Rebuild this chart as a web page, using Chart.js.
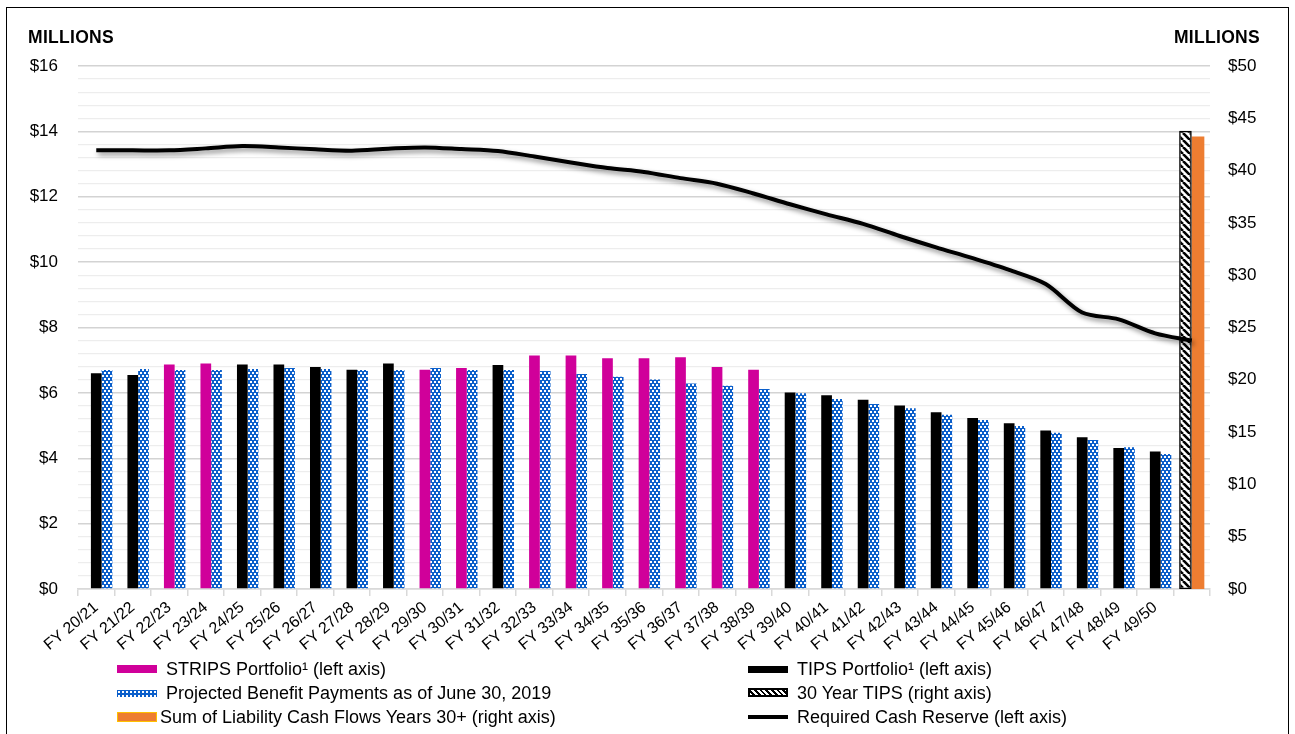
<!DOCTYPE html>
<html><head><meta charset="utf-8">
<script src="https://cdn.jsdelivr.net/npm/chart.js@4.4.0/dist/chart.umd.min.js"></script>
<style>
html,body{margin:0;padding:0;background:#fff;}
#wrap{position:relative;width:1295px;height:734px;overflow:hidden;font-family:"Liberation Sans",Arial,sans-serif;color:#000;}
canvas{position:absolute;left:0;top:0;}
.frame{position:absolute;left:6px;top:7px;width:1283px;height:760px;border:1.5px solid #000;box-sizing:border-box;pointer-events:none;}
.unit{position:absolute;top:27px;font-weight:bold;font-size:17.5px;letter-spacing:0.3px;}
.lg{position:absolute;font-size:18px;white-space:nowrap;line-height:20px;}
.sw{position:absolute;box-sizing:border-box;}
</style></head>
<body>
<div id="wrap">
<canvas id="c" width="1295" height="734"></canvas>
<div class="frame"></div>
<div class="unit" style="left:28px;">MILLIONS</div>
<div class="unit" style="right:35px;">MILLIONS</div>

<div class="sw" style="left:117px;top:665px;width:40px;height:8px;background:#D0009A;"></div>
<div class="lg" style="left:166px;top:659px;">STRIPS Portfolio¹ (left axis)</div>
<div class="sw" style="left:117px;top:690px;width:40px;height:7px;background-color:#0B5FCB;background-image:radial-gradient(#fff 35%, transparent 40%);background-size:4px 4px;"></div>
<div class="lg" style="left:166px;top:683px;">Projected Benefit Payments as of June 30, 2019</div>
<div class="sw" style="left:117px;top:712px;width:40px;height:10px;background:#ED7D31;border:1.5px solid #FFC000;"></div>
<div class="lg" style="left:160px;top:707px;">Sum of Liability Cash Flows Years 30+ (right axis)</div>

<div class="sw" style="left:748px;top:666px;width:40px;height:7px;background:#000;"></div>
<div class="lg" style="left:797px;top:659px;">TIPS Portfolio¹ (left axis)</div>
<div class="sw" style="left:748px;top:688px;width:40px;height:9px;border:2px solid #000;background:repeating-linear-gradient(45deg,#fff 0 2px,#000 2px 4px);"></div>
<div class="lg" style="left:797px;top:683px;">30 Year TIPS (right axis)</div>
<div class="sw" style="left:748px;top:715px;width:40px;height:4px;background:#000;"></div>
<div class="lg" style="left:797px;top:707px;">Required Cash Reserve (left axis)</div>
</div>
<script>
const categories = ['FY 20/21','FY 21/22','FY 22/23','FY 23/24','FY 24/25','FY 25/26','FY 26/27','FY 27/28','FY 28/29','FY 29/30','FY 30/31','FY 31/32','FY 32/33','FY 33/34','FY 34/35','FY 35/36','FY 36/37','FY 37/38','FY 38/39','FY 39/40','FY 40/41','FY 41/42','FY 42/43','FY 43/44','FY 44/45','FY 45/46','FY 46/47','FY 47/48','FY 48/49','FY 49/50',''];
const stripsPortfolio = [null,null,6.87,6.90,null,null,null,null,null,6.71,6.76,null,7.14,7.14,7.06,7.06,7.09,6.79,6.71,null,null,null,null,null,null,null,null,null,null,null,null];
const tipsPortfolio = [6.60,6.55,null,null,6.87,6.87,6.79,6.71,6.90,null,null,6.85,null,null,null,null,null,null,null,6.01,5.93,5.79,5.61,5.41,5.23,5.07,4.85,4.64,4.31,4.21,null];
const projectedBenefits = [6.70,6.73,6.70,6.70,6.73,6.76,6.73,6.70,6.70,6.76,6.70,6.70,6.67,6.58,6.49,6.41,6.29,6.22,6.12,5.99,5.81,5.66,5.53,5.33,5.17,4.99,4.78,4.56,4.34,4.13,null];
const thirtyYearTips = [null,null,null,null,null,null,null,null,null,null,null,null,null,null,null,null,null,null,null,null,null,null,null,null,null,null,null,null,null,null,43.8];
const sumLiability30 = [null,null,null,null,null,null,null,null,null,null,null,null,null,null,null,null,null,null,null,null,null,null,null,null,null,null,null,null,null,null,43.25];
const requiredReserve = [13.42,13.42,13.42,13.48,13.55,13.51,13.45,13.41,13.47,13.51,13.46,13.40,13.23,13.05,12.88,12.76,12.57,12.40,12.10,11.77,11.46,11.17,10.80,10.45,10.12,9.76,9.33,8.46,8.25,7.82,7.60];
const leftTicks = {min:0, max:16, step:0.4, labelEvery:2};
const rightTicks = {min:0, max:50, step:5};

// empty leading slot used by the source layout (zero-height, invisible)
const spacerSlot = projectedBenefits.map(v => v === null ? null : 0);

function makeBlue(){
  const c=document.createElement('canvas'); c.width=4; c.height=6;
  const g=c.getContext('2d');
  g.fillStyle='#0B5FCB'; g.fillRect(0,0,4,6);
  g.fillStyle='#ffffff'; g.fillRect(0,0,2,2); g.fillRect(2,3,2,2);
  return g.createPattern(c,'repeat');
}
function makeHatch(){
  const s=7; const c=document.createElement('canvas'); c.width=s; c.height=s;
  const g=c.getContext('2d');
  g.fillStyle='#fff'; g.fillRect(0,0,s,s);
  g.strokeStyle='#000'; g.lineWidth=2.6; g.beginPath();
  for(const k of [-s,0,s]){ g.moveTo(k,0); g.lineTo(k+s,s); }
  g.stroke();
  return g.createPattern(c,'repeat');
}
const isMajor = v => Math.abs(v/leftTicks.labelEvery - Math.round(v/leftTicks.labelEvery)) < 1e-6;

const shadowPlugin = {
  id:'lineShadow',
  beforeDatasetDraw(chart,args){
    if(chart.data.datasets[args.index].type==='line'){
      const c=chart.ctx; c.save();
      c.shadowColor='rgba(0,0,0,0.45)'; c.shadowBlur=5; c.shadowOffsetX=2; c.shadowOffsetY=3;
    }
  },
  afterDatasetDraw(chart,args){
    if(chart.data.datasets[args.index].type==='line'){ chart.ctx.restore(); }
  }
};

const FONT = '"Liberation Sans", Arial, sans-serif';
const leftCP = 0.88, rightCP = 0.69;

new Chart(document.getElementById('c'), {
  type:'bar',
  data:{
    labels:categories,
    datasets:[
      {type:'line', label:'Required Cash Reserve (left axis)', data:requiredReserve, yAxisID:'y', borderColor:'#000', borderWidth:4, pointRadius:0, tension:0.3, fill:false, order:0},
      {label:'', data:spacerSlot, yAxisID:'y', categoryPercentage:leftCP, barPercentage:1, backgroundColor:'rgba(0,0,0,0)', borderWidth:0, order:1},
      {label:'STRIPS Portfolio¹ (left axis)', data:stripsPortfolio, yAxisID:'y', categoryPercentage:leftCP, barPercentage:1, backgroundColor:'#D0009A', order:1},
      {label:'TIPS Portfolio¹ (left axis)', data:tipsPortfolio, yAxisID:'y', categoryPercentage:leftCP, barPercentage:1, backgroundColor:'#000000', order:1},
      {label:'Projected Benefit Payments as of June 30, 2019', data:projectedBenefits, yAxisID:'y', categoryPercentage:leftCP, barPercentage:1, backgroundColor:makeBlue(), order:1},
      {label:'30 Year TIPS (right axis)', data:thirtyYearTips, yAxisID:'y2', categoryPercentage:rightCP, barPercentage:1, backgroundColor:makeHatch(), borderColor:'#000', borderWidth:1.6, borderSkipped:false, order:1},
      {label:'Sum of Liability Cash Flows Years 30+ (right axis)', data:sumLiability30, yAxisID:'y2', categoryPercentage:rightCP, barPercentage:1, backgroundColor:'#ED7D31', order:1}
    ]
  },
  options:{
    responsive:false, animation:false, devicePixelRatio:1,
    datasets:{bar:{skipNull:true}},
    layout:{padding:{top:66,left:0,right:0,bottom:0}},
    plugins:{legend:{display:false}, tooltip:{enabled:false}},
    scales:{
      x:{type:'category', offset:true, position:'bottom', stacked:false,
        afterFit(s){ s.height=145; },
        grid:{display:true, offset:true, drawOnChartArea:false, drawTicks:true, tickLength:7, color:'#D9D9D9', lineWidth:1.5},
        border:{display:true, color:'#D9D9D9', width:1.5},
        ticks:{autoSkip:false, maxRotation:40, minRotation:40, color:'#000', font:{family:FONT, size:16}, padding:2}
      },
      y:{type:'linear', position:'left', min:leftTicks.min, max:leftTicks.max, stacked:false,
        afterFit(s){ s.width=78; },
        border:{display:false},
        grid:{drawTicks:false, color:c=>isMajor(c.tick.value)?'#D3D3D3':'#EDEDED', lineWidth:c=>isMajor(c.tick.value)?1.5:1.2},
        ticks:{stepSize:leftTicks.step, autoSkip:false, padding:20, color:'#000', font:{family:FONT, size:17}, callback:v=>isMajor(v)?'$'+Math.round(v):''}
      },
      y2:{type:'linear', position:'right', min:rightTicks.min, max:rightTicks.max, stacked:false,
        afterFit(s){ s.width=85; },
        border:{display:false},
        grid:{display:false, drawTicks:false},
        ticks:{stepSize:rightTicks.step, autoSkip:false, padding:18, color:'#000', font:{family:FONT, size:17}, callback:v=>'$'+v}
      }
    }
  },
  plugins:[shadowPlugin]
});
</script>
</body></html>
